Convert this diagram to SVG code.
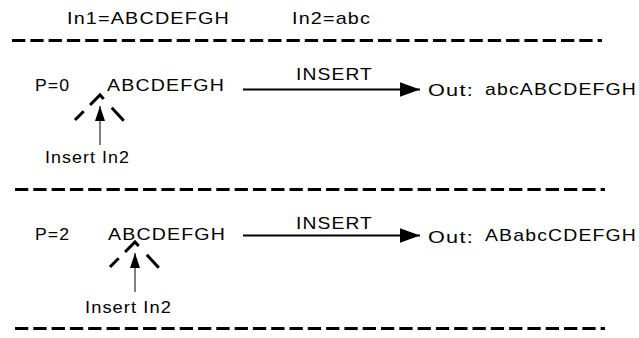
<svg xmlns="http://www.w3.org/2000/svg" width="639" height="338" viewBox="0 0 639 338">
<style>
text{font-family:"Liberation Sans",Arial,sans-serif;font-size:17px;fill:#000;letter-spacing:1px}
.sep{stroke:#000;stroke-width:3;stroke-dasharray:13.3 5;fill:none}
.caret{stroke:#000;stroke-width:3;fill:none;stroke-dasharray:12.3 9 19.5 11.9 17.7}
.flow{stroke:#000;stroke-width:2;fill:none}
.up{stroke:#000;stroke-width:1;fill:none}
</style>
<defs>
<marker id="bigArrow" markerUnits="userSpaceOnUse" markerWidth="20" markerHeight="16" refX="20" refY="8" orient="auto"><path d="M0,0.8 L20,8 L0,15.2 Z" fill="#000"/></marker>
<marker id="upArrow" markerUnits="userSpaceOnUse" markerWidth="15" markerHeight="11" refX="15" refY="5.5" orient="auto"><path d="M0,0.5 L15,5.5 L0,10.5 Z" fill="#000"/></marker>
</defs>
<g id="header">
<text x="67" y="24" textLength="163" lengthAdjust="spacingAndGlyphs">In1=ABCDEFGH</text>
<text x="292" y="24" textLength="79" lengthAdjust="spacingAndGlyphs">In2=abc</text>
</g>
<g id="separators">
<line class="sep" x1="12" y1="40.5" x2="602" y2="40.5"/>
<line class="sep" x1="15" y1="189.5" x2="605" y2="189.5"/>
<line class="sep" x1="15" y1="328.5" x2="605" y2="328.5"/>
</g>
<g id="row1-input">
<text x="35" y="91" textLength="35" lengthAdjust="spacingAndGlyphs">P=0</text>
<text x="107" y="91" textLength="118" lengthAdjust="spacingAndGlyphs">ABCDEFGH</text>
<path class="caret" d="M75,120 L100,95 L124,121"/>
</g>
<g id="row1-insert">
<text x="45" y="163" textLength="85" lengthAdjust="spacingAndGlyphs">Insert In2</text>
</g>
<g id="row1-output">
<text x="428" y="96"><tspan textLength="46" lengthAdjust="spacingAndGlyphs">Out:</tspan><tspan x="485" y="95" textLength="152" lengthAdjust="spacingAndGlyphs">abcABCDEFGH</tspan></text>
</g>
<g id="row2-input">
<text x="35" y="239.5" textLength="35" lengthAdjust="spacingAndGlyphs">P=2</text>
<text x="108" y="239.5" textLength="118" lengthAdjust="spacingAndGlyphs">ABCDEFGH</text>
<path class="caret" d="M110,267 L135,242 L159,268"/>
</g>
<g id="row2-insert">
<text x="85" y="313" textLength="87" lengthAdjust="spacingAndGlyphs">Insert In2</text>
</g>
<g id="row2-output">
<text x="428" y="242.5"><tspan textLength="46" lengthAdjust="spacingAndGlyphs">Out:</tspan><tspan x="485" y="241" textLength="152" lengthAdjust="spacingAndGlyphs">ABabcCDEFGH</tspan></text>
</g>
<g id="connectors">
<line class="flow" x1="243" y1="89.5" x2="420" y2="89.5" marker-end="url(#bigArrow)"/>
<text x="296" y="79.5" textLength="77" lengthAdjust="spacingAndGlyphs">INSERT</text>
<line class="up" x1="100" y1="145" x2="100" y2="106" marker-end="url(#upArrow)"/>
<line class="flow" x1="243" y1="235.5" x2="420" y2="235.5" marker-end="url(#bigArrow)"/>
<text x="296" y="228.5" textLength="77" lengthAdjust="spacingAndGlyphs">INSERT</text>
<line class="up" x1="135" y1="292" x2="135" y2="253" marker-end="url(#upArrow)"/>
</g>
</svg>
